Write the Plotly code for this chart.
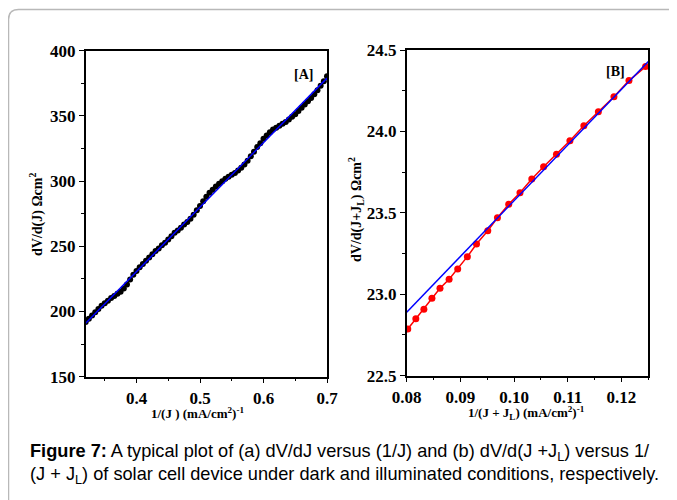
import plotly.graph_objects as go

# Panel A: dV/dJ vs 1/J (dark)
a_x = [0.320, 0.325, 0.330, 0.335, 0.340, 0.345, 0.350, 0.355, 0.360, 0.365,
       0.370, 0.375, 0.380, 0.385, 0.390, 0.395, 0.400, 0.405, 0.410, 0.415,
       0.420, 0.425, 0.430, 0.435, 0.440, 0.445, 0.450, 0.455, 0.460, 0.465,
       0.470, 0.475, 0.480, 0.485, 0.490, 0.495, 0.500, 0.505, 0.510, 0.515,
       0.520, 0.525, 0.530, 0.535, 0.540, 0.545, 0.550, 0.555, 0.560, 0.565,
       0.570, 0.575, 0.580, 0.585, 0.590, 0.595, 0.600, 0.605, 0.610, 0.615,
       0.620, 0.625, 0.630, 0.635, 0.640, 0.645, 0.650, 0.655, 0.660, 0.665,
       0.670, 0.675, 0.680, 0.685, 0.690, 0.695, 0.700]
a_y = [192.0, 194.5, 197.0, 199.4, 201.9, 204.4, 206.3, 208.3, 210.3, 211.8,
       213.7, 215.2, 217.7, 220.7, 224.6, 228.1, 231.1, 234.0, 236.5, 239.0,
       241.5, 243.9, 246.4, 248.4, 250.9, 252.8, 255.3, 257.8, 260.3, 262.2,
       264.2, 266.7, 268.7, 271.1, 274.1, 277.6, 281.0, 284.5, 288.0, 291.0,
       293.4, 295.9, 297.9, 299.9, 301.8, 303.3, 304.8, 306.3, 308.2, 310.2,
       312.7, 315.7, 319.1, 322.6, 326.1, 329.1, 332.5, 335.0, 337.5, 339.5,
       340.9, 342.4, 343.9, 345.4, 347.3, 349.3, 351.3, 353.7, 356.2, 358.7,
       361.2, 363.7, 366.6, 369.6, 373.1, 376.6, 380.5]
a_fit_x = [0.320, 0.700]
a_fit_y = [191, 379]

# Panel B: dV/d(J+JL) vs 1/(J+JL) (illuminated)
b_x = [0.0802, 0.0817, 0.0832, 0.0847, 0.0862, 0.0879, 0.0895, 0.0913, 0.0930, 0.0951,
       0.0969, 0.0990, 0.1011, 0.1033, 0.1055, 0.1079, 0.1104, 0.1130, 0.1157, 0.1186,
       0.1214, 0.1245]
b_y = [22.787, 22.850, 22.908, 22.975, 23.037, 23.092, 23.155, 23.231, 23.309, 23.390,
       23.470, 23.553, 23.624, 23.708, 23.783, 23.860, 23.943, 24.035, 24.121, 24.213,
       24.312, 24.398]
b_fit_x = [0.080, 0.125]
b_fit_y = [22.89, 24.43]

W, H = 677, 500
OFF = 8  # the page body adds an 8px margin, so shift everything back
SERIF = "Liberation Serif"


def fx(p):
    return (p - OFF) / W


def fy(p):
    return 1 - (p - OFF) / H


fig = go.Figure()

fig.add_trace(go.Scatter(x=a_x, y=a_y, mode="markers", xaxis="x", yaxis="y",
                         marker=dict(color="black", size=6), showlegend=False))
fig.add_trace(go.Scatter(x=a_fit_x, y=a_fit_y, mode="lines", xaxis="x", yaxis="y",
                         line=dict(color="#0000ff", width=1.5), showlegend=False))

fig.add_trace(go.Scatter(x=b_x, y=b_y, mode="lines+markers", xaxis="x2", yaxis="y2",
                         line=dict(color="#ff0000", width=1.5),
                         marker=dict(color="#ff0000", size=7), showlegend=False))
fig.add_trace(go.Scatter(x=b_fit_x, y=b_fit_y, mode="lines", xaxis="x2", yaxis="y2",
                         line=dict(color="#0000ff", width=1.5), showlegend=False))

axis_common = dict(
    showgrid=False, zeroline=False, automargin=False,
    showline=True, linecolor="black", linewidth=1.5, mirror=True,
    ticks="outside", ticklen=5, tickwidth=1.2, tickcolor="black",
    tickfont=dict(family=SERIF, size=17, color="black", weight="bold"),
)

fig.update_layout(
    width=W, height=H,
    margin=dict(l=0, r=0, t=0, b=0, pad=0),
    paper_bgcolor="white", plot_bgcolor="white",
    xaxis=dict(axis_common, domain=[fx(85.7), fx(327)], range=[0.32, 0.70],
               dtick=0.1, tick0=0.4, tickformat=".1f", anchor="y",
               minor=dict(dtick=0.05, tick0=0.35, ticks="outside", ticklen=3, tickcolor="black")),
    yaxis=dict(axis_common, domain=[fy(376.7), fy(50.7)], range=[150, 400],
               dtick=50, anchor="x",
               minor=dict(dtick=25, ticks="outside", ticklen=3, tickcolor="black")),
    xaxis2=dict(axis_common, domain=[fx(406.7), fx(648.3)], range=[0.08, 0.125],
                dtick=0.01, tick0=0.08, tickformat=".2f", anchor="y2",
                minor=dict(dtick=0.005, ticks="outside", ticklen=3, tickcolor="black")),
    yaxis2=dict(axis_common, domain=[fy(375.7), fy(50)], range=[22.5, 24.5],
                dtick=0.5, tickformat=".1f", anchor="x2",
                minor=dict(dtick=0.25, ticks="outside", ticklen=3, tickcolor="black")),
)

title_font = dict(family=SERIF, size=13, color="black", weight="bold")
ytitle_font = dict(family=SERIF, size=14, color="black", weight="bold")
ann = [
    dict(x=fx(197), y=fy(413), text="1/(J ) (mA/cm<sup>2</sup>)<sup>-1</sup>", font=title_font),
    dict(x=fx(526), y=fy(413), text="1/(J + J<sub>L</sub>) (mA/cm<sup>2</sup>)<sup>-1</sup>", font=title_font),
    dict(x=fx(37), y=fy(215), text="dV/d(J) Ωcm<sup>2</sup>", textangle=-90, font=ytitle_font),
    dict(x=fx(356), y=fy(210), text="dV/d(J+J<sub>L</sub>) Ωcm<sup>2</sup>", textangle=-90, font=ytitle_font),
    dict(x=fx(303), y=fy(74), text="[A]", font=dict(title_font, size=14)),
    dict(x=fx(615), y=fy(71), text="[B]", font=dict(title_font, size=14)),
]
for a in ann:
    fig.add_annotation(xref="paper", yref="paper", showarrow=False,
                       xanchor="center", yanchor="middle", **a)

cap_font = dict(family="Liberation Sans", size=18.2, color="black")
fig.add_annotation(xref="paper", yref="paper", x=fx(28), y=fy(452),
                   xanchor="left", yanchor="middle", showarrow=False, font=cap_font,
                   text="<b>Figure 7:</b> A typical plot of (a) dV/dJ versus (1/J) and (b) dV/d(J +J<sub>L</sub>) versus 1/")
fig.add_annotation(xref="paper", yref="paper", x=fx(28), y=fy(475),
                   xanchor="left", yanchor="middle", showarrow=False, font=cap_font,
                   text="(J + J<sub>L</sub>) of solar cell device under dark and illuminated conditions, respectively.")

# light gray frame on top and left with a rounded corner
x0, y0, r = fx(8.5), fy(9.5), 10
fig.add_shape(type="path", xref="paper", yref="paper",
              path=f"M {x0},0 L {x0},{y0 - r / H} Q {x0},{y0} {x0 + r / W},{y0} L 1,{y0}",
              line=dict(color="#b8b8b8", width=1.5))

fig.write_html("out.html")
